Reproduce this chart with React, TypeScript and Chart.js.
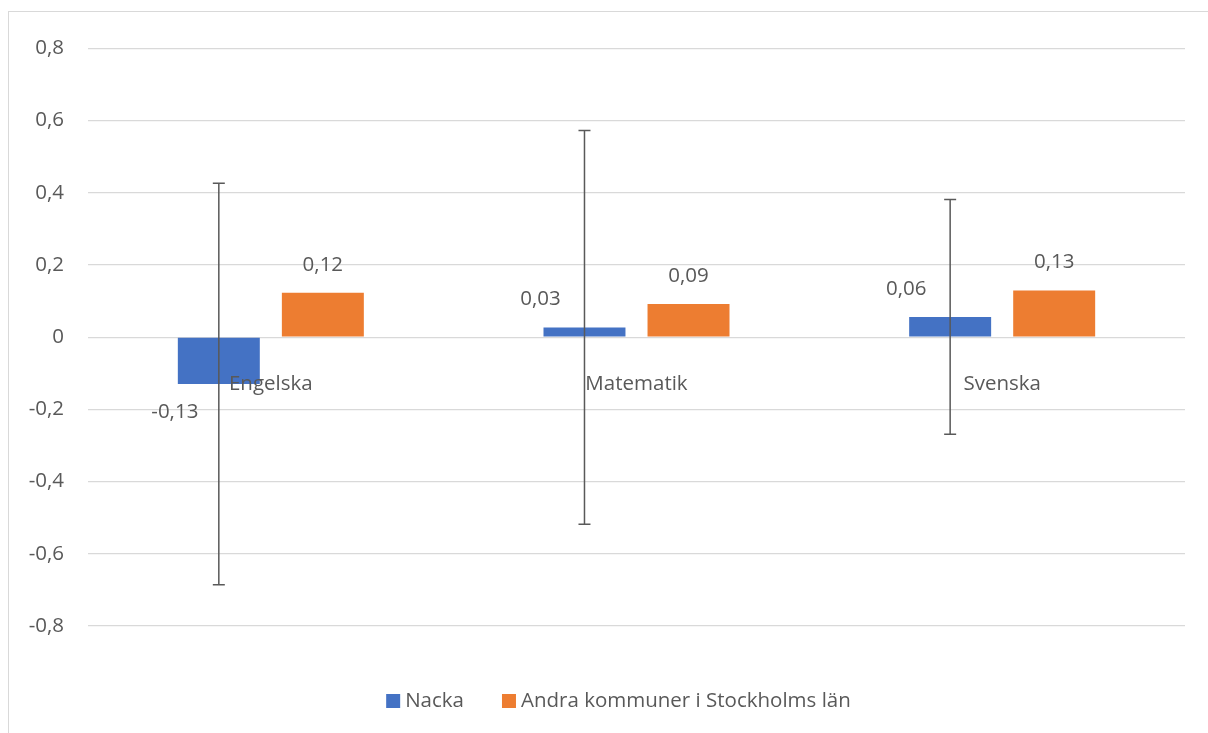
import React, { useEffect, useRef } from "react";
import { Chart, registerables } from "chart.js";

Chart.register(...registerables);

const categories = ["Engelska", "Matematik", "Svenska"];
const seriesNames = ["Nacka", "Andra kommuner i Stockholms län"];
const nackaValues = [-0.13, 0.027, 0.056];
const nackaErrors = [0.556, 0.545, 0.325];
const otherValues = [0.123, 0.092, 0.129];
const yMin = -0.8;
const yMax = 0.8;
const yStep = 0.2;

const FONT = "'Open Sans', 'Noto Sans', sans-serif";
const FONT_SIZE = 20.5;
const TEXT = "#595959";
const BLUE = "#4472C4";
const ORANGE = "#ED7D31";
const GRID = "#D9D9D9";

const fmtLabel = (v: number) => v.toFixed(2).replace(".", ",");
const fmtTick = (v: number) => {
  const n = Number(v.toFixed(1));
  return (n === 0 ? "0" : String(n)).replace(".", ",");
};

const overlayPlugin = {
  id: "overlay",
  afterDatasetsDraw(chart: any) {
    const ctx = chart.ctx;
    const ys = chart.scales.y;
    const xs = chart.scales.x;
    ctx.save();
    // error bars for Nacka
    const meta0 = chart.getDatasetMeta(0);
    ctx.strokeStyle = "#595959";
    ctx.lineWidth = 1.5;
    meta0.data.forEach((bar: any, i: number) => {
      const v = nackaValues[i];
      const e = nackaErrors[i];
      const top = ys.getPixelForValue(v + e);
      const bot = ys.getPixelForValue(v - e);
      const bx = bar.x;
      ctx.beginPath();
      ctx.moveTo(bx, top);
      ctx.lineTo(bx, bot);
      ctx.moveTo(bx - 6, top);
      ctx.lineTo(bx + 6, top);
      ctx.moveTo(bx - 6, bot);
      ctx.lineTo(bx + 6, bot);
      ctx.stroke();
    });
    // category labels near zero line
    ctx.font = `${FONT_SIZE}px ${FONT}`;
    ctx.fillStyle = TEXT;
    ctx.textAlign = "center";
    ctx.textBaseline = "middle";
    const zeroY = ys.getPixelForValue(0);
    categories.forEach((c, i) => {
      ctx.fillText(c, xs.getPixelForValue(i), zeroY + 47);
    });
    // data labels
    chart.data.datasets.forEach((ds: any, di: number) => {
      const meta = chart.getDatasetMeta(di);
      meta.data.forEach((bar: any, i: number) => {
        const v = ds.data[i] as number;
        const dx = di === 0 ? -44 : 0;
        const ly = v >= 0 ? bar.y - 28 : bar.y + 28;
        ctx.fillText(fmtLabel(v), bar.x + dx, ly);
      });
    });
    ctx.restore();
  },
  afterDraw(chart: any) {
    const ctx = chart.ctx;
    ctx.save();
    ctx.font = `${FONT_SIZE}px ${FONT}`;
    ctx.textBaseline = "middle";
    ctx.textAlign = "left";
    const box = 14;
    const gapBoxText = 5;
    const gapItems = 38;
    const colors = [BLUE, ORANGE];
    const widths = seriesNames.map((n) => ctx.measureText(n).width);
    const total =
      widths.reduce((a, w) => a + box + gapBoxText + w, 0) + gapItems * (seriesNames.length - 1);
    const centerX = chart.width / 2 + 10;
    const cy = 689;
    let x = centerX - total / 2;
    seriesNames.forEach((n, i) => {
      ctx.fillStyle = colors[i];
      ctx.fillRect(x, cy - box / 2, box, box);
      ctx.fillStyle = TEXT;
      ctx.fillText(n, x + box + gapBoxText, cy);
      x += box + gapBoxText + widths[i] + gapItems;
    });
    ctx.restore();
  },
};

export default function App() {
  const canvasRef = useRef<HTMLCanvasElement | null>(null);

  useEffect(() => {
    if (!canvasRef.current) return;
    const chart = new Chart(canvasRef.current, {
      type: "bar",
      data: {
        labels: categories,
        datasets: [
          {
            label: seriesNames[0],
            data: nackaValues,
            backgroundColor: BLUE,
            borderWidth: 0,
            categoryPercentage: 0.569,
            barPercentage: 0.788,
          },
          {
            label: seriesNames[1],
            data: otherValues,
            backgroundColor: ORANGE,
            borderWidth: 0,
            categoryPercentage: 0.569,
            barPercentage: 0.788,
          },
        ],
      },
      options: {
        animation: false,
        responsive: true,
        maintainAspectRatio: false,
        layout: { padding: { top: 35, right: 23, bottom: 107, left: 0 } },
        plugins: {
          legend: { display: false },
          tooltip: { enabled: false },
        },
        scales: {
          x: {
            type: "category",
            offset: true,
            grid: { display: false },
            border: { display: false },
            ticks: { display: false },
            afterFit: (s: any) => {
              s.height = 0;
            },
          },
          y: {
            min: yMin,
            max: yMax,
            grid: { color: GRID, lineWidth: 1.3, drawTicks: false },
            border: { display: false },
            ticks: {
              stepSize: yStep,
              padding: 24,
              color: TEXT,
              font: { family: FONT, size: FONT_SIZE },
              callback: (v: any) => fmtTick(Number(v)),
            },
            afterFit: (s: any) => {
              s.width = 79;
            },
          },
        },
      },
      plugins: [overlayPlugin],
    });
    return () => chart.destroy();
  }, []);

  return (
    <div
      style={{
        position: "fixed",
        left: 8,
        top: 11,
        width: 1210,
        height: 730,
        borderTop: `1px solid ${GRID}`,
        borderLeft: `1px solid ${GRID}`,
        boxSizing: "border-box",
        background: "#fff",
      }}
    >
      <div style={{ position: "relative", width: 1199, height: 721 }}>
        <canvas ref={canvasRef} />
      </div>
    </div>
  );
}
